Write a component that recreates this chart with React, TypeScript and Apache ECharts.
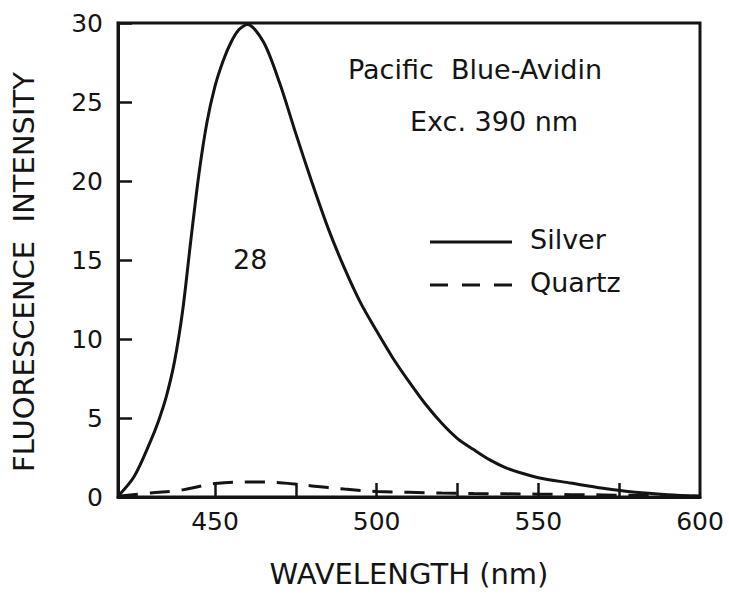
import React, { useEffect, useRef } from "react";
import * as echarts from "echarts";

const silverWavelength = [420, 425, 430, 432.5, 435, 437.5, 440, 442.5, 445, 447.5, 450, 452.5, 455, 457.5, 460, 465, 470, 475, 480, 485, 490, 495, 500, 505, 510, 515, 520, 525, 530, 535, 540, 545, 550, 560, 570, 580, 590, 600];
const silverIntensity = [0.05, 1.3, 3.5, 4.8, 6.4, 8.6, 11.8, 16.2, 20.4, 23.7, 26.0, 27.6, 28.8, 29.6, 29.9, 28.8, 26.2, 23.0, 19.9, 17.0, 14.5, 12.3, 10.5, 8.8, 7.3, 5.9, 4.7, 3.7, 3.0, 2.35, 1.85, 1.5, 1.22, 0.88, 0.55, 0.3, 0.15, 0.05];

const quartzWavelength = [420, 430, 440, 450, 460, 470, 480, 490, 500, 510, 520, 530, 540, 550, 560, 570, 580, 590, 600];
const quartzIntensity = [0.05, 0.25, 0.45, 0.85, 0.95, 0.9, 0.7, 0.5, 0.35, 0.3, 0.25, 0.22, 0.2, 0.18, 0.15, 0.13, 0.1, 0.08, 0.05];

const xLabelValues = [450, 500, 550, 600];
const xTickValues = [450, 475, 500, 525, 550, 575];

const seriesNames = ["Silver", "Quartz"];

const FONT = "DejaVu Sans";
const INK = "#141414";

export default function App() {
  const ref = useRef<HTMLDivElement>(null);
  useEffect(() => {
    if (!ref.current) return;
    const chart = echarts.init(ref.current, undefined, { renderer: "svg" });
    chart.setOption({
      animation: false,
      backgroundColor: "#ffffff",
      grid: {
        left: 118,
        right: 29,
        top: 23,
        bottom: 107,
        show: true,
        borderColor: INK,
        borderWidth: 3,
      },
      xAxis: {
        type: "value",
        min: 420,
        max: 600,
        name: "WAVELENGTH (nm)",
        nameLocation: "middle",
        nameGap: 62,
        nameTextStyle: { fontFamily: FONT, fontSize: 29, color: INK },
        splitLine: { show: false },
        axisLine: { lineStyle: { color: INK, width: 3 } },
        axisTick: { inside: true, length: 14, customValues: xTickValues, lineStyle: { color: INK, width: 2.5 } },
        axisLabel: { customValues: xLabelValues, margin: 12, fontFamily: FONT, fontSize: 25, color: INK },
      },
      yAxis: {
        type: "value",
        min: 0,
        max: 30,
        interval: 5,
        name: "FLUORESCENCE  INTENSITY",
        nameLocation: "middle",
        nameGap: 80,
        nameTextStyle: { fontFamily: FONT, fontSize: 29, color: INK, padding: [0, 24, 0, 0] },
        splitLine: { show: false },
        axisLine: { lineStyle: { color: INK, width: 3 } },
        axisTick: { inside: true, length: 14, lineStyle: { color: INK, width: 2.5 } },
        axisLabel: { margin: 15, fontFamily: FONT, fontSize: 25, color: INK },
      },
      graphic: [
        { type: "text", left: 348, top: 56, style: { text: "Pacific  Blue-Avidin", font: `27px "${FONT}"`, fill: INK } },
        { type: "text", left: 410, top: 108, style: { text: "Exc. 390 nm", font: `27px "${FONT}"`, fill: INK } },
        { type: "text", left: 233, top: 246, style: { text: "28", font: `27px "${FONT}"`, fill: INK } },
        { type: "line", shape: { x1: 430, y1: 242, x2: 512, y2: 242 }, style: { stroke: INK, lineWidth: 3 } },
        { type: "line", shape: { x1: 430, y1: 285, x2: 512, y2: 285 }, style: { stroke: INK, lineWidth: 3, lineDash: [18, 14] } },
        { type: "text", left: 530, top: 226, style: { text: seriesNames[0], font: `27px "${FONT}"`, fill: INK } },
        { type: "text", left: 530, top: 269, style: { text: seriesNames[1], font: `27px "${FONT}"`, fill: INK } },
      ],
      series: [
        {
          name: seriesNames[0],
          type: "line",
          smooth: 0.3,
          symbol: "none",
          lineStyle: { color: INK, width: 3, type: "solid" },
          itemStyle: { color: INK },
          data: silverWavelength.map((w, i) => [w, silverIntensity[i]]),
        },
        {
          name: seriesNames[1],
          type: "line",
          smooth: 0.4,
          symbol: "none",
          lineStyle: { color: INK, width: 3, type: [20, 12] },
          itemStyle: { color: INK },
          data: quartzWavelength.map((w, i) => [w, quartzIntensity[i]]),
        },
      ],
    });
    return () => chart.dispose();
  }, []);
  return <div ref={ref} style={{ position: "fixed", left: 0, top: 0, width: 729, height: 604 }} />;
}
